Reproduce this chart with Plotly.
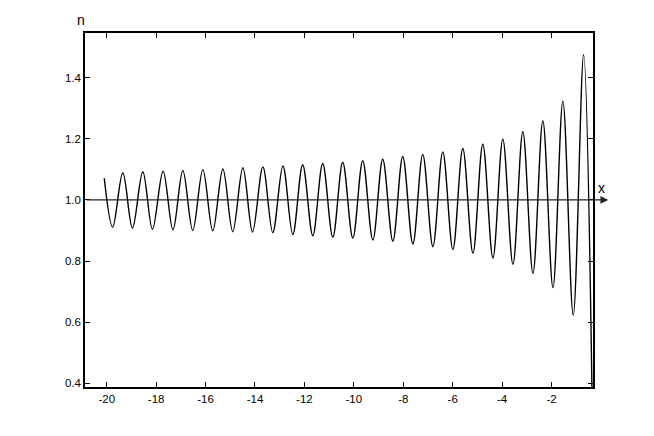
import plotly.graph_objects as go

# extrema of the curve (start, trough, peak, ... , end)
x_pts = [
    -20.10, -19.76, -19.35, -18.96, -18.54, -18.15, -17.72, -17.32, -16.92,
    -16.52, -16.11, -15.71, -15.30, -14.90, -14.49, -14.10, -13.68, -13.28,
    -12.87, -12.47, -12.07, -11.66, -11.26, -10.85, -10.45, -10.04, -9.64,
    -9.23, -8.83, -8.42, -8.02, -7.61, -7.21, -6.80, -6.40, -5.99, -5.59,
    -5.18, -4.78, -4.37, -3.97, -3.56, -3.16, -2.75, -2.35, -1.94, -1.54,
    -1.12, -0.70, -0.36,
]
n_pts = [
    1.071, 0.911, 1.089, 0.908, 1.092, 0.904, 1.094, 0.902, 1.096,
    0.900, 1.099, 0.899, 1.101, 0.896, 1.105, 0.895, 1.108, 0.893,
    1.111, 0.887, 1.115, 0.883, 1.119, 0.878, 1.123, 0.875, 1.128,
    0.869, 1.133, 0.865, 1.142, 0.856, 1.149, 0.847, 1.157, 0.838, 1.168,
    0.826, 1.182, 0.810, 1.199, 0.789, 1.223, 0.760, 1.259, 0.713, 1.323,
    0.623, 1.475, 0.370,
]

x_tick_vals = [-20, -18, -16, -14, -12, -10, -8, -6, -4, -2]
x_tick_text = ["-20", "-18", "-16", "-14", "-12", "-10", "-8", "-6", "-4", "-2"]
y_tick_vals = [0.4, 0.6, 0.8, 1.0, 1.2, 1.4]
y_tick_text = ["0.4", "0.6", "0.8", "1.0", "1.2", "1.4"]

fig = go.Figure()
fig.add_trace(
    go.Scatter(
        x=x_pts,
        y=n_pts,
        mode="lines",
        line=dict(color="black", width=1.4, shape="spline", smoothing=1.0),
        showlegend=False,
    )
)

# horizontal axis at n = 1 with arrow
fig.add_annotation(
    xref="x domain", yref="y", x=1.03, y=1.0,
    axref="x domain", ayref="y", ax=0, ay=1.0,
    showarrow=True, arrowhead=2, arrowsize=1.2, arrowwidth=1.3,
    arrowcolor="#222", text="",
)
fig.add_annotation(
    xref="x domain", yref="y", x=1.016, y=1.0, yshift=12,
    xanchor="center", yanchor="middle",
    text="x", showarrow=False, font=dict(size=14, color="black"),
)
fig.add_annotation(
    xref="x domain", yref="y domain", x=0, y=1.0, xshift=-4, yshift=13,
    xanchor="center", yanchor="middle",
    text="n", showarrow=False, font=dict(size=14, color="black"),
)

axis_style = dict(
    showgrid=False, zeroline=False, showline=True, linecolor="black",
    linewidth=1.5, mirror="ticks", ticks="inside", ticklen=5,
    tickcolor="black", tickwidth=1,
)
fig.update_xaxes(
    range=[-20.88, -0.32], tickvals=x_tick_vals, ticktext=x_tick_text, **axis_style
)
fig.update_yaxes(
    range=[0.388, 1.546], tickvals=y_tick_vals, ticktext=y_tick_text, **axis_style
)
# page body adds an 8px offset, so the figure is 8px smaller each way
fig.update_layout(
    width=646,
    height=428,
    margin=dict(l=77, r=61, t=25, b=49),
    plot_bgcolor="white",
    paper_bgcolor="white",
    font=dict(family="Liberation Sans, Arial, sans-serif", size=11.5, color="black"),
)
fig.write_html("out.html")
